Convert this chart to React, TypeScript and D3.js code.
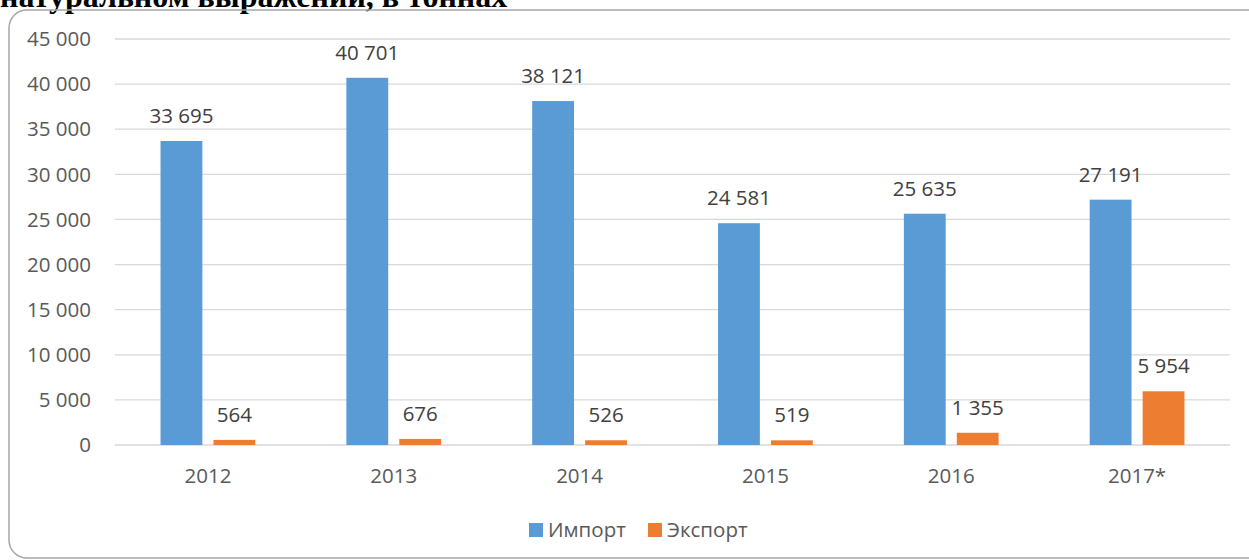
import React from 'react';
import * as d3 from 'd3';

const years = ['2012', '2013', '2014', '2015', '2016', '2017*'];
const importValues = [33695, 40701, 38121, 24581, 25635, 27191];
const exportValues = [564, 676, 526, 519, 1355, 5954];
const seriesNames = ['Импорт', 'Экспорт'];
const seriesColors = ['#5B9BD5', '#ED7D31'];
const yTicks = [0, 5000, 10000, 15000, 20000, 25000, 30000, 35000, 40000, 45000];

const W = 1249;
const H = 560;
const FONT = '"Open Sans", "Noto Sans", sans-serif';
const FS = 20.5;

// thousands with a space, as in the source
const fmt = (v: number) => d3.format(',')(v).replace(/,/g, ' ');

export default function App() {
  const plot = { left: 115, right: 1230, top: 39, bottom: 445 };

  const x = d3.scaleBand<string>().domain(years).range([plot.left, plot.right]).padding(0);
  const y = d3.scaleLinear().domain([0, 45000]).range([plot.bottom, plot.top]);
  // the two bars sit in the middle ~51% of each category
  const inner = d3
    .scaleBand<number>()
    .domain([0, 1])
    .range([x.bandwidth() * 0.245, x.bandwidth() * 0.755])
    .paddingInner(0.21);

  const series = [importValues, exportValues];

  return (
    <svg
      width={W}
      height={H}
      style={{ position: 'fixed', left: 0, top: 0, background: '#fff' }}
    >
      {/* clipped heading of the source document */}
      <text
        x={0}
        y={7}
        fontFamily='"Liberation Serif", "Times New Roman", serif'
        fontWeight="bold"
        fontSize={32}
        fill="#000"
      >
        натуральном выражении, в тоннах
      </text>

      <rect x={9} y={10} width={1256} height={548} rx={18} ry={18} fill="none" stroke="#a6a6a6" strokeWidth={1.5} />

      {/* grid + y axis */}
      {yTicks.map((t) => (
        <g key={t}>
          <line x1={plot.left} x2={plot.right} y1={y(t)} y2={y(t)} stroke="#d9d9d9" strokeWidth={1.3} />
          <text x={91} y={y(t)} dy="0.35em" textAnchor="end" fontFamily={FONT} fontSize={FS} fill="#595959">
            {fmt(t)}
          </text>
        </g>
      ))}

      {/* bars and labels */}
      {years.map((yr, i) => (
        <g key={yr} transform={`translate(${x(yr)},0)`}>
          {series.map((vals, s) => {
            const bx = inner(s) as number;
            const bw = inner.bandwidth();
            return (
              <g key={s}>
                <rect x={bx} y={y(vals[i])} width={bw} height={y(0) - y(vals[i])} fill={seriesColors[s]} />
                <text
                  x={bx + bw / 2}
                  y={y(vals[i]) - 18}
                  textAnchor="middle"
                  fontFamily={FONT}
                  fontSize={FS}
                  fill="#404040"
                >
                  {fmt(vals[i])}
                </text>
              </g>
            );
          })}
          <text
            x={x.bandwidth() / 2}
            y={483}
            textAnchor="middle"
            fontFamily={FONT}
            fontSize={FS}
            fill="#595959"
          >
            {yr}
          </text>
        </g>
      ))}

      {/* legend */}
      {seriesNames.map((name, s) => {
        const lx = s === 0 ? 529 : 648;
        return (
          <g key={name}>
            <rect x={lx} y={523} width={14} height={14} fill={seriesColors[s]} />
            <text x={lx + 19} y={530} dy="0.35em" fontFamily={FONT} fontSize={FS} fill="#595959">
              {name}
            </text>
          </g>
        );
      })}
    </svg>
  );
}
